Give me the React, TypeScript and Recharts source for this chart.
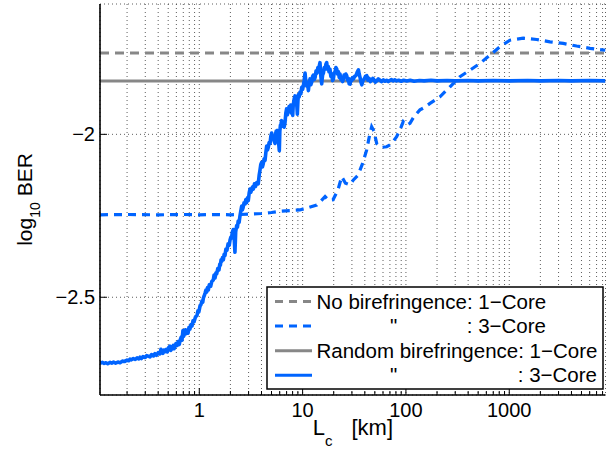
import React from 'react';
import { LineChart, Line, XAxis, YAxis, CartesianGrid } from 'recharts';

const FONT = '"Liberation Sans", Arial, Helvetica, sans-serif';
const BLUE = '#0064ff';
const GRAY = '#878787';

const X_MIN = 0.1094;
const X_MAX = 8540;
const Y_MIN = -2.8;
const Y_MAX = -1.6;

const xMajorTicks = [1, 10, 100, 1000];
const xAllTicks = [
  0.2, 0.3, 0.4, 0.5, 0.6, 0.7, 0.8, 0.9,
  1, 2, 3, 4, 5, 6, 7, 8, 9,
  10, 20, 30, 40, 50, 60, 70, 80, 90,
  100, 200, 300, 400, 500, 600, 700, 800, 900,
  1000, 2000, 3000, 4000, 5000, 6000, 7000, 8000,
];
const yTicks = [-2.5, -2];

// No birefringence, 1-Core (flat)
const noBiref1Core: [number, number][] = [
  [0.1094, -1.75],
  [8540, -1.75],
];

// Random birefringence, 1-Core (flat)
const randBiref1Core: [number, number][] = [
  [0.1094, -1.836],
  [8540, -1.836],
];

// No birefringence, 3-Core
const noBiref3Core: [number, number][] = [
  [0.1094, -2.247], [0.2, -2.246], [0.4, -2.247], [0.7, -2.246], [1.0, -2.247],
  [1.5, -2.246], [2.0, -2.247], [2.5, -2.246], [3.0, -2.245], [4.0, -2.243],
  [5.0, -2.24], [6.0, -2.236], [7.5, -2.234], [9.4, -2.232], [11, -2.226],
  [13.7, -2.217], [15, -2.205], [16.5, -2.191], [18, -2.203], [19.7, -2.201],
  [22, -2.17], [23.9, -2.13], [26, -2.15], [28.7, -2.155], [31, -2.14],
  [34.4, -2.125], [38, -2.09], [41.7, -2.048], [44, -2.01], [46.6, -1.977],
  [49, -1.99], [52.1, -2.028], [58, -2.04], [65.1, -2.038], [72, -2.03],
  [81.3, -2.007], [88, -1.985], [94.2, -1.961], [102, -1.972], [109.4, -1.966],
  [120, -1.945], [136.7, -1.925], [150, -1.918], [171, -1.905], [213.5, -1.885],
  [267, -1.854], [333, -1.823], [417, -1.803], [521, -1.782], [651, -1.757],
  [814, -1.731], [1016, -1.711], [1366, -1.705], [1841, -1.709], [2477, -1.716],
  [3334, -1.721], [4489, -1.729], [6040, -1.736], [8540, -1.742],
];

// Random birefringence, 3-Core
const randBiref3Core: [number, number][] = [
  [0.1094, -2.7025], [0.115, -2.7], [0.12, -2.703], [0.125, -2.701], [0.13, -2.704],
  [0.137, -2.7], [0.142, -2.702], [0.148, -2.699], [0.155, -2.702], [0.163, -2.699],
  [0.171, -2.701], [0.18, -2.696], [0.19, -2.697], [0.2, -2.693], [0.207, -2.695],
  [0.2135, -2.69], [0.22, -2.692], [0.23, -2.688], [0.24, -2.691], [0.25, -2.686],
  [0.26, -2.689], [0.2668, -2.684], [0.275, -2.688], [0.285, -2.682], [0.3, -2.685],
  [0.31, -2.679], [0.3334, -2.683], [0.345, -2.676], [0.36, -2.68], [0.3727, -2.673],
  [0.385, -2.678], [0.4, -2.67], [0.416, -2.674], [0.425, -2.66], [0.435, -2.668],
  [0.445, -2.672], [0.455, -2.662], [0.4654, -2.667], [0.48, -2.66], [0.49, -2.668],
  [0.505, -2.655], [0.52, -2.65], [0.53, -2.663], [0.545, -2.656], [0.56, -2.648],
  [0.57, -2.658], [0.582, -2.652], [0.595, -2.642], [0.61, -2.648], [0.625, -2.636],
  [0.64, -2.645], [0.655, -2.63], [0.67, -2.622], [0.68, -2.632], [0.695, -2.602],
  [0.705, -2.62], [0.72, -2.612], [0.735, -2.6], [0.745, -2.612], [0.76, -2.604],
  [0.778, -2.61], [0.795, -2.592], [0.81, -2.598], [0.83, -2.585], [0.85, -2.588],
  [0.87, -2.572], [0.89, -2.575], [0.92, -2.56], [0.95, -2.556], [0.97, -2.542],
  [0.99, -2.545], [1.016, -2.527], [1.04, -2.522], [1.06, -2.512], [1.08, -2.515],
  [1.094, -2.503], [1.115, -2.496], [1.136, -2.488], [1.16, -2.478], [1.18, -2.484],
  [1.2, -2.47], [1.222, -2.478], [1.25, -2.462], [1.29, -2.466], [1.32, -2.452],
  [1.366, -2.447], [1.39, -2.432], [1.42, -2.441], [1.45, -2.425], [1.474, -2.428],
  [1.51, -2.412], [1.55, -2.416], [1.58, -2.398], [1.6, -2.402], [1.625, -2.385],
  [1.648, -2.39], [1.68, -2.378], [1.71, -2.385], [1.74, -2.368], [1.773, -2.372],
  [1.81, -2.352], [1.85, -2.356], [1.9, -2.336], [1.95, -2.34], [1.982, -2.325],
  [2.02, -2.316], [2.05, -2.318], [2.09, -2.3], [2.132, -2.292], [2.17, -2.31],
  [2.214, -2.362], [2.25, -2.3], [2.3, -2.28], [2.34, -2.285], [2.38, -2.266],
  [2.43, -2.27], [2.477, -2.25], [2.52, -2.236], [2.573, -2.22], [2.61, -2.232],
  [2.65, -2.226], [2.71, -2.21], [2.768, -2.214], [2.82, -2.2], [2.87, -2.21],
  [2.93, -2.195], [2.98, -2.203], [3.04, -2.18], [3.095, -2.168], [3.15, -2.178],
  [3.2, -2.172], [3.27, -2.162], [3.332, -2.168], [3.42, -2.152], [3.5, -2.16],
  [3.6, -2.148], [3.72, -2.152], [3.8, -2.125], [3.866, -2.11], [3.94, -2.092],
  [4.01, -2.086], [4.08, -2.1], [4.15, -2.092], [4.24, -2.075], [4.33, -2.08],
  [4.41, -2.055], [4.49, -2.036], [4.57, -2.048], [4.65, -2.04], [4.74, -2.025],
  [4.84, -2.028], [4.93, -2.005], [5.02, -1.996], [5.1, -2.012], [5.2, -2.005],
  [5.3, -2.02], [5.41, -2.028], [5.48, -1.998], [5.55, -1.99], [5.62, -2.0],
  [5.69, -1.988], [5.8, -2.01], [5.95, -2.05], [6.02, -1.99], [6.1, -1.972],
  [6.18, -1.968], [6.27, -1.958], [6.38, -1.975], [6.5, -1.968], [6.62, -1.978],
  [6.75, -1.965], [6.88, -1.935], [7.0, -1.922], [7.12, -1.94], [7.25, -1.93],
  [7.4, -1.915], [7.55, -1.922], [7.68, -1.91], [7.8, -1.935], [7.92, -1.925],
  [8.02, -1.942], [8.1, -1.915], [8.2, -1.9], [8.3, -1.89], [8.44, -1.882],
  [8.55, -1.905], [8.7, -1.896], [8.8, -1.915], [8.89, -1.938], [9.0, -1.9],
  [9.1, -1.878], [9.25, -1.885], [9.43, -1.87], [9.6, -1.876], [9.8, -1.856],
  [10.0, -1.862], [10.18, -1.85], [10.35, -1.835], [10.56, -1.812], [10.75, -1.84],
  [10.96, -1.852], [11.15, -1.842], [11.37, -1.866], [11.6, -1.84], [11.8, -1.83],
  [12.0, -1.848], [12.25, -1.84], [12.5, -1.822], [12.7, -1.818], [12.95, -1.832],
  [13.2, -1.826], [13.5, -1.805], [13.8, -1.812], [14.05, -1.795], [14.3, -1.802],
  [14.5, -1.79], [14.73, -1.78], [15.0, -1.82], [15.3, -1.845], [15.6, -1.818],
  [15.9, -1.812], [16.2, -1.795], [16.5, -1.8], [16.8, -1.785], [17.11, -1.78],
  [17.4, -1.8], [17.7, -1.792], [18.0, -1.808], [18.4, -1.8], [18.75, -1.822],
  [19.1, -1.815], [19.5, -1.835], [19.85, -1.83], [20.2, -1.812], [20.6, -1.808],
  [21.0, -1.795], [21.4, -1.8], [21.8, -1.815], [22.2, -1.808], [22.6, -1.825],
  [23.0, -1.815], [23.5, -1.832], [23.9, -1.826], [24.4, -1.838], [24.8, -1.83],
  [25.2, -1.818], [25.7, -1.824], [26.2, -1.815], [26.7, -1.82], [27.2, -1.834],
  [27.7, -1.828], [28.2, -1.845], [28.8, -1.846], [29.3, -1.83], [29.9, -1.835],
  [30.5, -1.826], [31.0, -1.83], [31.9, -1.822], [32.8, -1.82], [33.7, -1.81],
  [34.7, -1.802], [35.3, -1.815], [36.0, -1.826], [36.7, -1.84], [37.4, -1.848],
  [38.4, -1.835], [39.5, -1.83], [40.6, -1.822], [41.8, -1.82], [42.9, -1.834],
  [44, -1.828], [45.3, -1.838], [46.7, -1.834], [47.8, -1.828], [49, -1.832],
  [50.5, -1.84], [52.2, -1.836], [54, -1.83], [56, -1.834], [58, -1.838],
  [60.5, -1.833], [62.8, -1.837], [65, -1.834], [67.5, -1.838], [69.9, -1.835],
  [72.5, -1.832], [75, -1.836], [78, -1.833], [81.1, -1.836], [85, -1.834],
  [90, -1.837], [95, -1.834], [101.9, -1.836], [110, -1.834], [120, -1.837],
  [135, -1.835], [150, -1.836], [175, -1.834], [200, -1.836], [250, -1.835],
  [300, -1.836], [400, -1.835], [500, -1.836], [700, -1.835], [1000, -1.836],
  [1500, -1.835], [2000, -1.836], [3000, -1.835], [4000, -1.836], [6000, -1.835],
  [8540, -1.836],
];

const legendRows = [
  { lead: 'No birefringence: 1\u2212Core', ditto: '', tail: '', color: GRAY, dashed: true },
  { lead: '', ditto: '"', tail: ': 3\u2212Core', color: BLUE, dashed: true },
  { lead: 'Random birefringence: 1\u2212Core', ditto: '', tail: '', color: GRAY, dashed: false },
  { lead: '', ditto: '"', tail: ': 3\u2212Core', color: BLUE, dashed: false },
];
const legendTailEnds = [0, 280, 0, 331];

const toRows = (pts: [number, number][]) => pts.map(([x, y]) => ({ x, y }));

const fmt = (v: number) => String(v).replace('-', '\u2212');

const BottomTick = (props: any) => {
  const { x, y, payload } = props;
  const major = xMajorTicks.includes(payload.value);
  return (
    <g>
      <line x1={x} x2={x} y1={y} y2={y - (major ? 7 : 4)} stroke="#000" strokeWidth={1} />
      {major && (
        <text x={x} y={y + 22} textAnchor="middle" fontSize={20} fontFamily={FONT} fill="#000">
          {payload.value}
        </text>
      )}
    </g>
  );
};

const TopTick = (props: any) => {
  const { x, y, payload } = props;
  const major = xMajorTicks.includes(payload.value);
  return <line x1={x} x2={x} y1={y} y2={y + (major ? 7 : 4)} stroke="#000" strokeWidth={1} />;
};

const LeftTick = (props: any) => {
  const { x, y, payload } = props;
  return (
    <g>
      <line x1={x} x2={x + 7} y1={y} y2={y} stroke="#000" strokeWidth={1} />
      <text x={x - 5} y={y + 7} textAnchor="end" fontSize={20} fontFamily={FONT} fill="#000">
        {fmt(payload.value)}
      </text>
    </g>
  );
};

const RightTick = (props: any) => {
  const { x, y } = props;
  return <line x1={x} x2={x - 7} y1={y} y2={y} stroke="#000" strokeWidth={1} />;
};

const YLabel = (props: any) => {
  const vb = props.viewBox || { x: 0, y: 4, width: 100, height: 391 };
  const cx = vb.x + 32;
  const cy = vb.y + vb.height / 2;
  return (
    <text
      x={cx}
      y={cy}
      transform={`rotate(-90 ${cx} ${cy})`}
      textAnchor="middle"
      fontSize={21}
      fontFamily={FONT}
      fill="#000"
      style={{ whiteSpace: 'pre' }}
    >
      log
      <tspan fontSize={14} dy={8}>10</tspan>
      <tspan dy={-8}>{' BER'}</tspan>
    </text>
  );
};

const XLabel = (props: any) => {
  const vb = props.viewBox || { x: 100, y: 395, width: 505, height: 54 };
  const cx = vb.x + vb.width / 2;
  const x0 = cx - 40;
  const y0 = vb.y + 40;
  return (
    <text x={x0} y={y0} textAnchor="start" fontSize={22} fontFamily={FONT} fill="#000" style={{ whiteSpace: 'pre' }}>
      L
      <tspan fontSize={15} dy={11}>c</tspan>
      <tspan dy={-11} dx={19}>[km]</tspan>
    </text>
  );
};

const LegendBox = () => (
  <svg width={338} height={104} style={{ position: 'absolute', left: 266, top: 286 }}>
    <rect x={1} y={1} width={336} height={102} fill="#fff" stroke="#000" strokeWidth={1.5} />
    {legendRows.map((r, i) => {
      const ly = 15.5 + i * 24.6;
      return (
        <g key={i}>
          <line
            x1={9}
            x2={46}
            y1={ly}
            y2={ly}
            stroke={r.color}
            strokeWidth={3}
            strokeDasharray={r.dashed ? '8 6' : undefined}
          />
          {r.lead && (
            <text x={50.5} y={ly + 7} fontSize={20.5} fontFamily={FONT} fill="#000">
              {r.lead}
            </text>
          )}
          {r.ditto && (
            <text x={124} y={ly + 7} fontSize={20.5} fontFamily={FONT} fill="#000">
              {r.ditto}
            </text>
          )}
          {r.tail && (
            <text x={legendTailEnds[i]} y={ly + 7} textAnchor="end" fontSize={20.5} fontFamily={FONT} fill="#000">
              {r.tail}
            </text>
          )}
        </g>
      );
    })}
  </svg>
);

function LabelGuard(C: (p: any) => React.ReactElement) {
  return (p: any) => <C {...p} />;
}

export default function App() {
  return (
    <div style={{ position: 'absolute', left: 0, top: 0, width: 616, height: 449, background: '#fff' }}>
      <LineChart width={616} height={449} margin={{ top: 4, right: 10.5, bottom: 0, left: 0 }}>
        <CartesianGrid stroke="#333" strokeWidth={0.8} strokeDasharray="1 3" />
        <XAxis
          dataKey="x"
          type="number"
          scale="log"
          domain={[X_MIN, X_MAX]}
          allowDataOverflow
          ticks={xAllTicks}
          interval={0}
          height={54}
          tickSize={0}
          tickMargin={0}
          tickLine={false}
          tick={<BottomTick />}
          axisLine={{ stroke: '#000', strokeWidth: 1.6 }}
          label={LabelGuard(XLabel)}
        />
        <XAxis
          xAxisId="top"
          orientation="top"
          dataKey="x"
          type="number"
          scale="log"
          domain={[X_MIN, X_MAX]}
          allowDataOverflow
          ticks={xAllTicks}
          interval={0}
          height={0}
          tickSize={0}
          tickMargin={0}
          tickLine={false}
          tick={<TopTick />}
          axisLine={{ stroke: '#000', strokeWidth: 1.6 }}
        />
        <YAxis
          type="number"
          domain={[Y_MIN, Y_MAX]}
          allowDataOverflow
          ticks={yTicks}
          interval={0}
          width={100}
          tickSize={0}
          tickMargin={0}
          tickLine={false}
          tick={<LeftTick />}
          axisLine={{ stroke: '#000', strokeWidth: 1.6 }}
          label={LabelGuard(YLabel)}
        />
        <YAxis
          yAxisId="right"
          orientation="right"
          type="number"
          domain={[Y_MIN, Y_MAX]}
          allowDataOverflow
          ticks={yTicks}
          interval={0}
          width={0}
          tickSize={0}
          tickMargin={0}
          tickLine={false}
          tick={<RightTick />}
          axisLine={{ stroke: '#000', strokeWidth: 1.6 }}
        />
        <Line
          data={toRows(noBiref1Core)}
          dataKey="y"
          type="linear"
          stroke={GRAY}
          strokeWidth={3}
          strokeDasharray="9 6"
          dot={false}
          isAnimationActive={false}
        />
        <Line
          data={toRows(noBiref3Core)}
          dataKey="y"
          type="linear"
          stroke={BLUE}
          strokeWidth={3.2}
          strokeDasharray="8 6"
          dot={false}
          isAnimationActive={false}
        />
        <Line
          data={toRows(randBiref1Core)}
          dataKey="y"
          type="linear"
          stroke={GRAY}
          strokeWidth={3}
          dot={false}
          isAnimationActive={false}
        />
        <Line
          data={toRows(randBiref3Core)}
          dataKey="y"
          type="linear"
          stroke={BLUE}
          strokeWidth={3.6}
          strokeLinejoin="round"
          dot={false}
          isAnimationActive={false}
        />
      </LineChart>
      <LegendBox />
    </div>
  );
}
